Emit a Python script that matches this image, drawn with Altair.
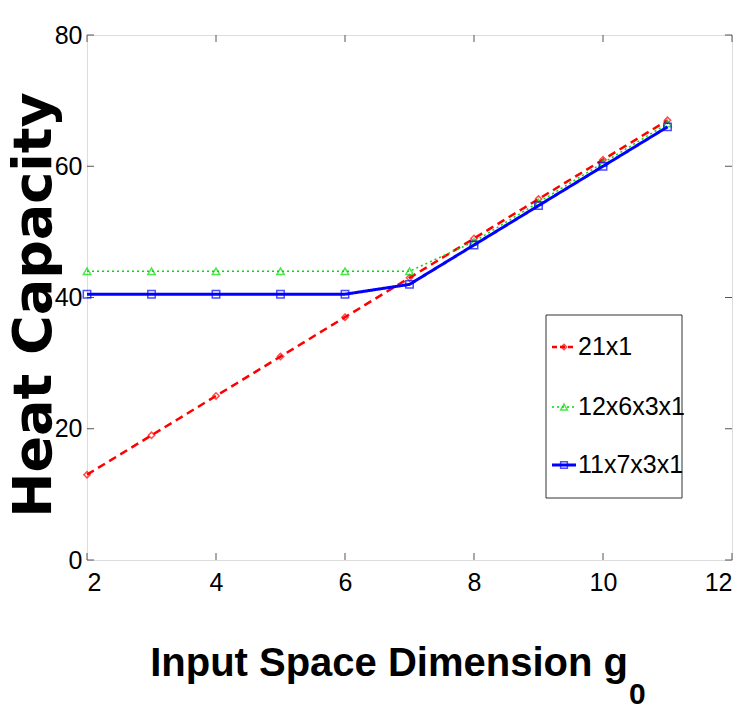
import altair as alt
import pandas as pd

x_vals = [2, 3, 4, 5, 6, 7, 8, 9, 10, 11]
red_21x1 = [13, 19, 25, 31, 37, 43, 49, 55, 61, 67]
green_12x6x3x1 = [44, 44, 44, 44, 44, 44, 48.5, 54.5, 60.5, 66.5]
blue_11x7x3x1 = [40.5, 40.5, 40.5, 40.5, 40.5, 42, 48, 54, 60, 66]
series_names = ["21x1", "12x6x3x1", "11x7x3x1"]
x_ticks = [2, 4, 6, 8, 10, 12]
y_ticks = [0, 20, 40, 60, 80]

W, H = 645, 525
SANS = "Liberation Sans"

def frame(vals):
    return pd.DataFrame({"x": x_vals, "y": vals})

xs = alt.Scale(domain=[2, 12], nice=False)
ys = alt.Scale(domain=[0, 80], nice=False)

xax = alt.Axis(values=x_ticks, format="d", domain=False, ticks=False, grid=False,
               labelFont=SANS, labelFontSize=25, labelColor="black", labelPadding=10,
               title=None)
yax = alt.Axis(values=y_ticks, format="d", domain=False, ticks=False, grid=False,
               labelFont=SANS, labelFontSize=25, labelColor="black", labelPadding=5,
               title=None)

def series(vals, color, dash, width, shape, size):
    base = alt.Chart(frame(vals))
    line = base.mark_line(color=color, strokeWidth=width, strokeDash=dash).encode(
        x=alt.X("x:Q", scale=xs, axis=xax), y=alt.Y("y:Q", scale=ys, axis=yax))
    pts = base.mark_point(shape=shape, color=color, filled=False, size=size, strokeWidth=1.5).encode(
        x=alt.X("x:Q", scale=xs), y=alt.Y("y:Q", scale=ys))
    return [line, pts]

red = series(red_21x1, "#ff0000", [8, 5], 2.5, "diamond", 40)
green = series(green_12x6x3x1, "#00dd00", [2, 3], 1.5, "triangle-up", 55)
blue = series(blue_11x7x3x1, "#0000ff", [1, 0], 3, "square", 55)

xt = pd.DataFrame({"v": x_ticks})
yt = pd.DataFrame({"v": y_ticks})
tk = 7
ticks = [
    alt.Chart(xt).mark_rule(color="#555").encode(x=alt.X("v:Q", scale=xs), y=alt.value(H), y2=alt.value(H - tk)),
    alt.Chart(xt).mark_rule(color="#555").encode(x=alt.X("v:Q", scale=xs), y=alt.value(0), y2=alt.value(tk)),
    alt.Chart(yt).mark_rule(color="#555").encode(y=alt.Y("v:Q", scale=ys), x=alt.value(0), x2=alt.value(tk)),
    alt.Chart(yt).mark_rule(color="#555").encode(y=alt.Y("v:Q", scale=ys), x=alt.value(W), x2=alt.value(W - tk)),
]

one = pd.DataFrame({"a": [0]})
lg = []
lg.append(alt.Chart(one).mark_rect(fill="white", stroke="#333", strokeWidth=1).encode(
    x=alt.value(459), x2=alt.value(595), y=alt.value(280), y2=alt.value(463)))
entries = [
    (series_names[0], "#ff0000", [5, 3], 2.5, "diamond", 30, 312),
    (series_names[1], "#00dd00", [2, 3], 1.5, "triangle-up", 45, 372),
    (series_names[2], "#0000ff", [1, 0], 3, "square", 45, 430),
]
for name, color, dash, width, shape, size, yy in entries:
    lg.append(alt.Chart(one).mark_rule(color=color, strokeWidth=width, strokeDash=dash).encode(
        x=alt.value(465), x2=alt.value(489), y=alt.value(yy)))
    lg.append(alt.Chart(one).mark_point(shape=shape, color=color, filled=False, size=size, strokeWidth=1.5).encode(
        x=alt.value(477), y=alt.value(yy)))
    lg.append(alt.Chart(one).mark_text(text=name, align="left", baseline="middle", font=SANS,
                                       fontSize=25, color="black").encode(x=alt.value(491), y=alt.value(yy)))

titles = [
    alt.Chart(one).mark_text(text="Heat Capacity", angle=270, align="center", baseline="middle",
                             font="DejaVu Sans", fontWeight="bold", fontSize=54, color="black").encode(
        x=alt.value(-52), y=alt.value(270)),
    alt.Chart(one).mark_text(text="Input Space Dimension g", align="right", baseline="alphabetic",
                             font=SANS, fontWeight="bold", fontSize=40, color="black").encode(
        x=alt.value(541), y=alt.value(641)),
    alt.Chart(one).mark_text(text="0", align="left", baseline="alphabetic",
                             font=SANS, fontWeight="bold", fontSize=30, color="black").encode(
        x=alt.value(542), y=alt.value(669)),
]

chart = alt.layer(*ticks, *red, *green, *blue, *lg, *titles).properties(
    width=W, height=H,
    autosize=alt.AutoSizeParams(type="none"),
    padding={"left": 87, "top": 35, "right": 16, "bottom": 151},
).configure_view(stroke="#333", strokeWidth=1).configure(background="white")

chart.save("out.html", embed_options={"renderer": "svg", "actions": False})
